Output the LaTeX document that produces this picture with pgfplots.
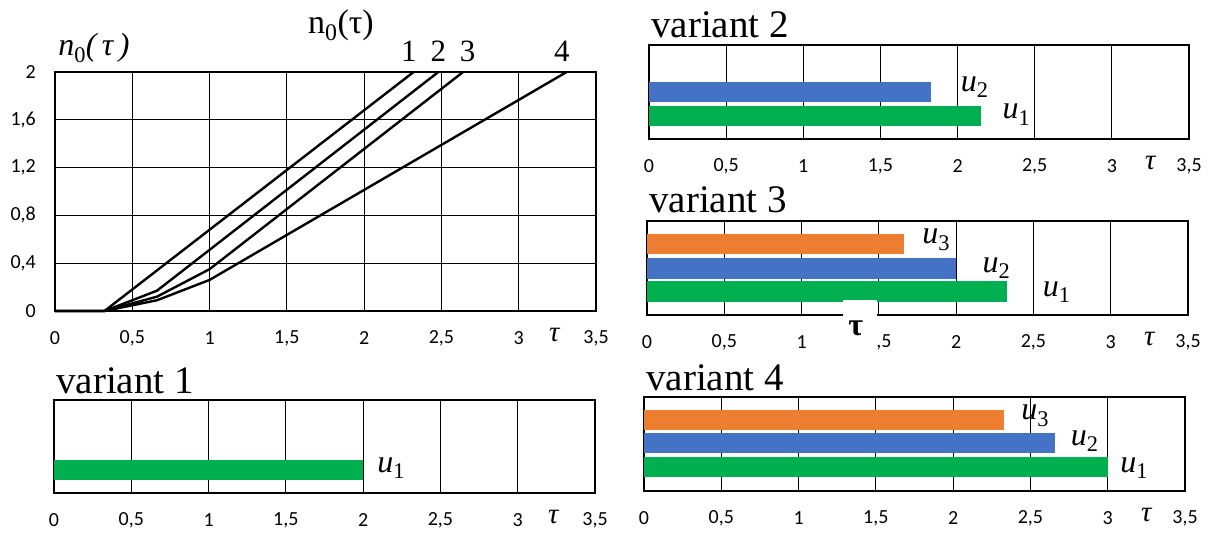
\documentclass[border=0pt]{standalone}
\usepackage{pgfplots}
\pgfplotsset{compat=1.18}
\usepackage{fontspec}
\setmainfont{Liberation Serif}
\newfontfamily\tickfont{Carlito}
\definecolor{cgreen}{HTML}{00B050}
\definecolor{cblue}{HTML}{4472C4}
\definecolor{corange}{HTML}{ED7D31}
\pgfplotsset{
  panel/.style={
    scale only axis, clip=false, anchor=south west,
    xmin=0, xmax=3.5,
    xtick={0,0.5,1,1.5,2,2.5,3,3.5},
    xticklabels={0,{0,5},1,{1,5},2,{2,5},3,{3,5}},
    xmajorgrids,
    grid style={black, line width=1.2pt},
    axis line style={black, line width=1.4pt},
    major tick length=0pt,
    xticklabel style={font=\tickfont\fontsize{20}{20}\selectfont, anchor=center, inner sep=0pt, yshift=-27pt},
  },
  bars/.style={panel, ymin=0, ymax=1, ytick=\empty},
  barg/.style={xbar, draw=none, fill=cgreen, bar width=0.215, bar shift=0pt},
  barb/.style={xbar, draw=none, fill=cblue, bar width=0.215, bar shift=0pt},
  baro/.style={xbar, draw=none, fill=corange, bar width=0.215, bar shift=0pt},
}
\newcommand{\ulab}[1]{\textit{u}\textsubscript{#1}}
\tikzset{
  ul/.style={anchor=west, inner sep=0pt, font=\fontsize{32}{32}\selectfont},
  tl/.style={anchor=base west, inner sep=0pt, font=\fontsize{39}{39}\selectfont},
  taul/.style={inner sep=0pt, font=\fontsize{29}{29}\selectfont\itshape},
}
\begin{document}
\begin{tikzpicture}
\useasboundingbox (0,0) rectangle (1216pt,533pt);
% top-left: n0(tau)
\begin{axis}[panel, at={(55pt,222pt)}, width=541pt, height=239pt,
  ymin=0, ymax=2, ytick={0,0.4,0.8,1.2,1.6,2},
  yticklabels={0,{0,4},{0,8},{1,2},{1,6},2}, ymajorgrids,
  yticklabel style={font=\tickfont\fontsize{20}{20}\selectfont, anchor=east, inner sep=0pt, xshift=-19pt}]
\addplot[black, line width=2.4pt] coordinates {(0,0) (0.32,0) (2.32,2)};
\addplot[black, line width=2.4pt] coordinates {(0,0) (0.32,0) (0.66,0.17) (2.48,2)};
\addplot[black, line width=2.4pt] coordinates {(0,0) (0.32,0) (0.66,0.12) (1,0.35) (2.64,2)};
\addplot[black, line width=2.4pt] coordinates {(0,0) (0.32,0) (0.66,0.09) (1,0.26) (3.31,2)};
\node[font=\fontsize{34}{34}\selectfont, inner sep=0pt] at (axis cs:1.85,2.39) {n\textsubscript{0}(τ)};
\node[anchor=west, inner sep=0pt, font=\fontsize{32}{32}\selectfont\itshape] at (axis cs:0.02,2.2) {n\textsubscript{\upshape 0}(\,τ\,)};
\node[font=\fontsize{31}{31}\selectfont, inner sep=0pt] at (axis cs:2.29,2.17) {1};
\node[font=\fontsize{31}{31}\selectfont, inner sep=0pt] at (axis cs:2.48,2.17) {2};
\node[font=\fontsize{31}{31}\selectfont, inner sep=0pt] at (axis cs:2.67,2.17) {3};
\node[font=\fontsize{31}{31}\selectfont, inner sep=0pt] at (axis cs:3.28,2.17) {4};
\node[taul] at (axis cs:3.23,0) [yshift=-24pt] {τ};
\end{axis}
% variant 1
\begin{axis}[bars, at={(54pt,40pt)}, width=541pt, height=93pt]
\addplot[barg] coordinates {(2.0,0.247)};
\node[ul] at (axis cs:2.09,0.27) {\ulab{1}};
\node[tl] at (rel axis cs:0,1) [xshift=2pt, yshift=6pt] {variant 1};
\node[taul] at (axis cs:3.23,0) [yshift=-24pt] {τ};
\end{axis}
% variant 2
\begin{axis}[bars, at={(649pt,394pt)}, width=540pt, height=94pt]
\addplot[barg] coordinates {(2.15,0.245)};
\addplot[barb] coordinates {(1.83,0.497)};
\node[ul] at (axis cs:2.02,0.55) {\ulab{2}};
\node[ul] at (axis cs:2.29,0.26) {\ulab{1}};
\node[tl] at (rel axis cs:0,1) [xshift=2pt, yshift=7pt] {variant 2};
\node[taul] at (axis cs:3.25,0) [yshift=-24pt] {τ};
\end{axis}
% variant 3
\begin{axis}[bars, at={(647pt,218pt)}, width=541pt, height=94pt]
\addplot[barg] coordinates {(2.33,0.25)};
\addplot[barb] coordinates {(2.0,0.495)};
\addplot[baro] coordinates {(1.66,0.752)};
\node[ul] at (axis cs:1.78,0.8) {\ulab{3}};
\node[ul] at (axis cs:2.17,0.5) {\ulab{2}};
\node[ul] at (axis cs:2.56,0.24) {\ulab{1}};
\node[tl] at (rel axis cs:0,1) [xshift=2pt, yshift=8pt] {variant 3};
\node[taul] at (axis cs:3.25,0) [yshift=-24pt] {τ};
\coordinate (patch) at (axis cs:1.38,-0.1);
\coordinate (patchtau) at (axis cs:1.35,-0.14);
\end{axis}
% variant 4
\begin{axis}[bars, at={(644pt,42pt)}, width=541pt, height=94pt]
\addplot[barg] coordinates {(3.0,0.257)};
\addplot[barb] coordinates {(2.66,0.514)};
\addplot[baro] coordinates {(2.33,0.755)};
\node[ul] at (axis cs:2.44,0.8) {\ulab{3}};
\node[ul] at (axis cs:2.76,0.53) {\ulab{2}};
\node[ul] at (axis cs:3.08,0.24) {\ulab{1}};
\node[tl] at (rel axis cs:0,1) [xshift=2pt, yshift=6pt] {variant 4};
\node[taul] at (axis cs:3.25,0) [yshift=-24pt] {τ};
\end{axis}
% stray white patch with tau in variant 3
\node[fill=white, inner sep=0pt, minimum width=34pt, minimum height=48pt] at (patch) {};
\node[inner sep=0pt, font=\fontsize{32}{32}\selectfont\bfseries] at (patchtau) {τ};
\end{tikzpicture}
\end{document}
